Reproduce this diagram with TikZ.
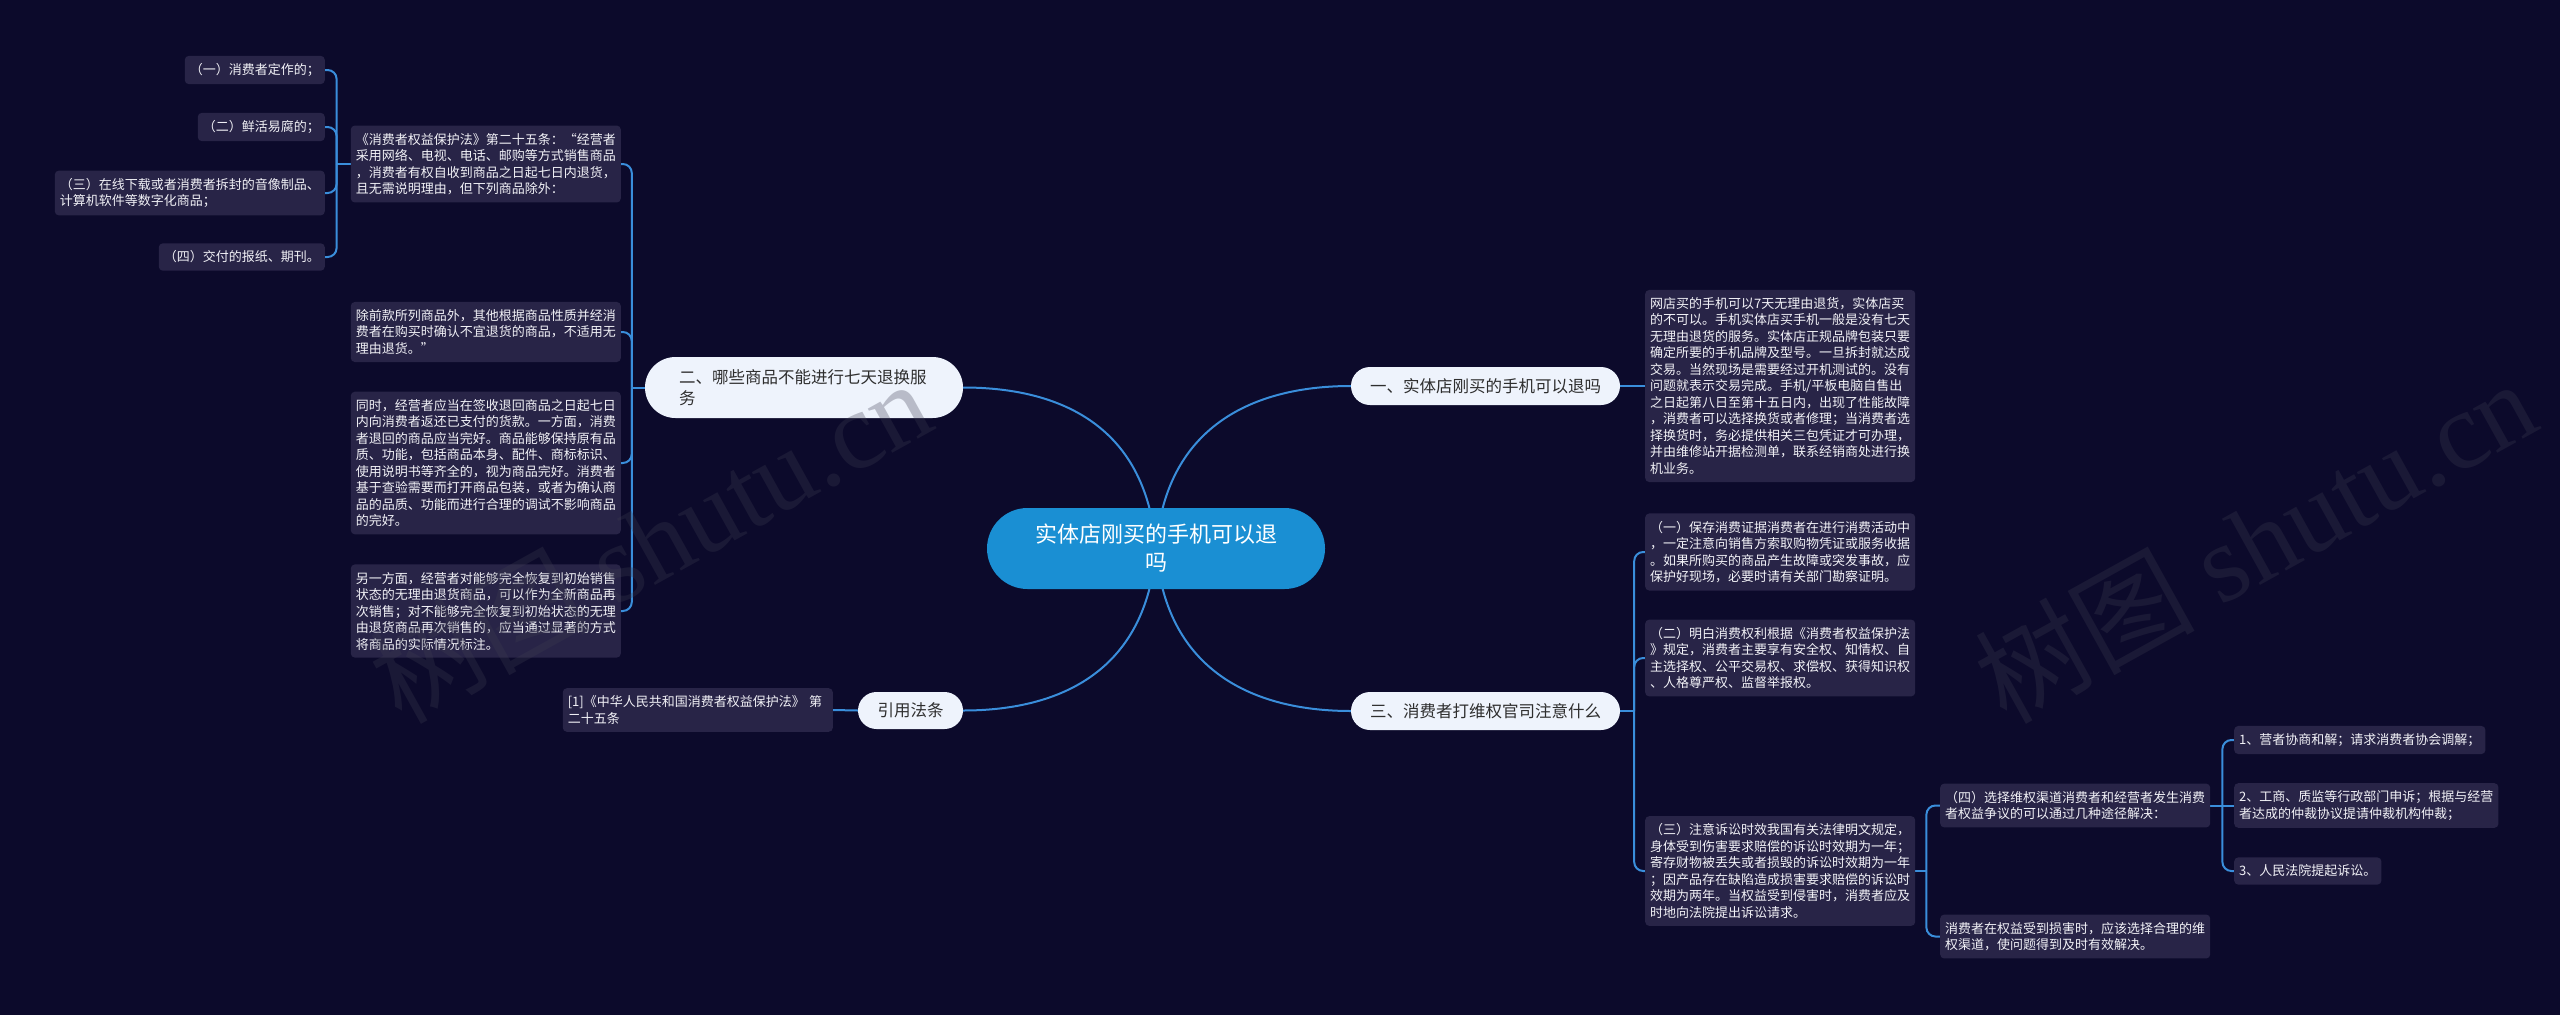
\documentclass[tikz,border=0pt]{standalone}
\usepackage{fontspec}
\setmainfont{Noto Sans CJK SC}
\newfontfamily\wmlatin{Liberation Serif}
\usetikzlibrary{calc}
\definecolor{bgc}{HTML}{0C0A2B}
\definecolor{leafc}{HTML}{282447}
\definecolor{leaftext}{HTML}{F2F2F7}
\definecolor{linkc}{HTML}{3A8EDB}
\definecolor{centerc}{HTML}{1A8FD3}
\definecolor{branchc}{HTML}{EEF3FC}
\definecolor{branchtext}{HTML}{2E2E2E}
\definecolor{wmc}{HTML}{3C3C50}
\pgfdeclarelayer{bg}
\pgfdeclarelayer{links}
\pgfsetlayers{bg,links,main}
\begin{document}
\begin{tikzpicture}[x=1pt,y=-1pt,
  leaf/.style={fill=leafc, rounded corners=4, text=leaftext, font=\fontsize{13}{16.5}\selectfont, inner xsep=5, inner ysep=7.5, align=left},
  wleaf/.style={leaf, text width=260},
  link/.style={draw=linkc, line width=2},
  bracket/.style={link, rounded corners=9},
  hub/.style={fill=centerc, text=white, font=\fontsize{22}{28}\selectfont, minimum width=338, minimum height=81, rounded corners=40.5, align=center, inner sep=0},
  branch/.style={fill=branchc, text=branchtext, font=\fontsize{16.5}{21}\selectfont, minimum height=38, rounded corners=19, inner sep=0},
  wm/.style={text=wmc, opacity=0.3, font=\fontsize{110}{110}\selectfont, rotate=29}
]
\useasboundingbox (0,0) rectangle (2560,1015);
\begin{pgfonlayer}{bg}
\fill[bgc] (0,0) rectangle (2560,1015);
\end{pgfonlayer}

% hub and branches
\node[hub] (c) at (1156,548.5) {实体店刚买的手机可以退\\吗};
\node[branch, minimum width=269] (b1) at (1485.5,386) {一、实体店刚买的手机可以退吗};
\node[branch, minimum width=318, minimum height=61, rounded corners=30.5, text width=250, align=left] (b2) at (804,387.5) {二、哪些商品不能进行七天退换服\\务};
\node[branch, minimum width=269] (b3) at (1485.5,711) {三、消费者打维权官司注意什么};
\node[branch, minimum width=105, minimum height=37, rounded corners=18.5] (b4) at (910.5,710.5) {引用法条};

% right side leaves
\node[wleaf, anchor=west] (L1) at (1645,386) {网店买的手机可以7天无理由退货，实体店买\\的不可以。手机实体店买手机一般是没有七天\\无理由退货的服务。实体店正规品牌包装只要\\确定所要的手机品牌及型号。一旦拆封就达成\\交易。当然现场是需要经过开机测试的。没有\\问题就表示交易完成。手机/平板电脑自售出\\之日起第八日至第十五日内，出现了性能故障\\，消费者可以选择换货或者修理；当消费者选\\择换货时，务必提供相关三包凭证才可办理，\\并由维修站开据检测单，联系经销商处进行换\\机业务。};
\node[wleaf, anchor=west] (R1) at (1645,552) {（一）保存消费证据消费者在进行消费活动中\\，一定注意向销售方索取购物凭证或服务收据\\。如果所购买的商品产生故障或突发事故，应\\保护好现场，必要时请有关部门勘察证明。};
\node[wleaf, anchor=west] (R2) at (1645,658) {（二）明白消费权利根据《消费者权益保护法\\》规定，消费者主要享有安全权、知情权、自\\主选择权、公平交易权、求偿权、获得知识权\\、人格尊严权、监督举报权。};
\node[wleaf, anchor=west] (R3) at (1645,871) {（三）注意诉讼时效我国有关法律明文规定，\\身体受到伤害要求赔偿的诉讼时效期为一年；\\寄存财物被丢失或者损毁的诉讼时效期为一年\\；因产品存在缺陷造成损害要求赔偿的诉讼时\\效期为两年。当权益受到侵害时，消费者应及\\时地向法院提出诉讼请求。};
\node[wleaf, anchor=west] (R4) at (1940,805.5) {（四）选择维权渠道消费者和经营者发生消费\\者权益争议的可以通过几种途径解决：};
\node[wleaf, anchor=west] (R5) at (1940,936.5) {消费者在权益受到损害时，应该选择合理的维\\权渠道，使问题得到及时有效解决。};
\node[leaf, anchor=west] (S1) at (2234,740) {1、营者协商和解；请求消费者协会调解；};
\node[leaf, anchor=west] (S2) at (2234,805.5) {2、工商、质监等行政部门申诉；根据与经营\\者达成的仲裁协议提请仲裁机构仲裁；};
\node[leaf, anchor=west] (S3) at (2234,871) {3、人民法院提起诉讼。};

% left side leaves
\node[wleaf, anchor=east] (law) at (621,164) {《消费者权益保护法》第二十五条：“经营者\\采用网络、电视、电话、邮购等方式销售商品\\，消费者有权自收到商品之日起七日内退货，\\且无需说明理由，但下列商品除外：};
\node[leaf, anchor=east] (A1) at (325,70) {（一）消费者定作的；};
\node[leaf, anchor=east] (A2) at (325,127) {（二）鲜活易腐的；};
\node[leaf, anchor=east] (A3) at (325,193) {（三）在线下载或者消费者拆封的音像制品、\\计算机软件等数字化商品；};
\node[leaf, anchor=east] (A4) at (325,257) {（四）交付的报纸、期刊。};
\node[wleaf, anchor=east] (B1) at (621,332) {除前款所列商品外，其他根据商品性质并经消\\费者在购买时确认不宜退货的商品，不适用无\\理由退货。”};
\node[wleaf, anchor=east] (B2) at (621,463) {同时，经营者应当在签收退回商品之日起七日\\内向消费者返还已支付的货款。一方面，消费\\者退回的商品应当完好。商品能够保持原有品\\质、功能，包括商品本身、配件、商标标识、\\使用说明书等齐全的，视为商品完好。消费者\\基于查验需要而打开商品包装，或者为确认商\\品的品质、功能而进行合理的调试不影响商品\\的完好。};
\node[wleaf, anchor=east] (B3) at (621,611) {另一方面，经营者对能够完全恢复到初始销售\\状态的无理由退货商品，可以作为全新商品再\\次销售；对不能够完全恢复到初始状态的无理\\由退货商品再次销售的，应当通过显著的方式\\将商品的实际情况标注。};
\node[wleaf, anchor=east] (cite) at (833,710) {[1]《中华人民共和国消费者权益保护法》 第\\二十五条};

\coordinate (jA) at ($(law.west)+(-14,0)$);
\coordinate (jB) at ($(b2.west)+(-13,0)$);
\coordinate (jR) at ($(b3.east)+(14,0)$);
\coordinate (jT) at ($(R3.east)+(11,0)$);
\coordinate (jS) at ($(R4.east)+(12,0)$);

\begin{pgfonlayer}{links}
\draw[link] (c.center) .. controls ($(c.center)+(10,-128)$) and ($(b1.west)+(-90,0)$) .. (b1.west);
\draw[link] (c.center) .. controls ($(c.center)+(-10,-128)$) and ($(b2.east)+(90,0)$) .. (b2.east);
\draw[link] (c.center) .. controls ($(c.center)+(10,128)$) and ($(b3.west)+(-90,0)$) .. (b3.west);
\draw[link] (c.center) .. controls ($(c.center)+(-10,128)$) and ($(b4.east)+(90,0)$) .. (b4.east);
\draw[link] (b1.east) -- (L1.west);
\draw[link] (b4.west) -- (cite.east);
\draw[link] (b2.west) -- (jB);
\foreach \n in {law,B1,B2,B3} \draw[bracket] (jB) |- (\n.east);
\draw[link] (law.west) -- (jA);
\foreach \n in {A1,A2,A3,A4} \draw[bracket] (jA) |- (\n.east);
\draw[link] (b3.east) -- (jR);
\foreach \n in {R1,R2,R3} \draw[bracket] (jR) |- (\n.west);
\draw[link] (R3.east) -- (jT);
\foreach \n in {R4,R5} \draw[bracket] (jT) |- (\n.west);
\draw[link] (R4.east) -- (jS);
\draw[link] (jS) -- (S2.west);
\foreach \n in {S1,S3} \draw[bracket] (jS) |- (\n.west);
\end{pgfonlayer}

% watermarks
\node[wm] (wm1) at (650,540) {树图 {\wmlatin shutu.cn}};
\node[wm] (wm2) at (2255,540) {树图 {\wmlatin shutu.cn}};
\end{tikzpicture}
\end{document}
